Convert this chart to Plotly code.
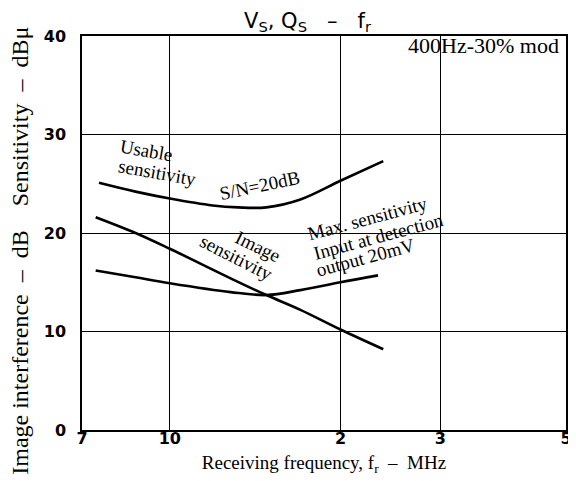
import numpy as np
import plotly.graph_objects as go

# Receiving frequency (MHz) and levels (dB / dBμ)
usable_f = [0.75, 0.87, 1.0, 1.19, 1.32, 1.48, 1.70, 2.0, 2.38]
usable_db = [25.1, 24.2, 23.5, 22.8, 22.6, 22.6, 23.4, 25.3, 27.3]

image_f = [0.74, 0.87, 1.0, 1.28, 1.48, 1.70, 2.0, 2.38]
image_db = [21.6, 20.0, 18.4, 15.4, 13.7, 12.2, 10.2, 8.2]

maxsens_f = [0.74, 0.87, 1.0, 1.28, 1.48, 1.70, 2.0, 2.33]
maxsens_db = [16.2, 15.5, 14.9, 14.0, 13.7, 14.2, 15.0, 15.7]

x_tickvals = [0.7, 1, 2, 3, 5]
x_ticktext = ["7", "10", "2", "3", "5"]
y_tickvals = [0, 10, 20, 30, 40]
y_ticktext = ["0", "10", "20", "30", "40"]

SERIF = "Liberation Serif"
SANS = "DejaVu Sans"
NB = "\u00a0"

fig = go.Figure()
for fx, fy in [(usable_f, usable_db), (image_f, image_db), (maxsens_f, maxsens_db)]:
    fig.add_trace(go.Scatter(x=fx, y=fy, mode="lines",
                             line=dict(color="black", width=2.6, shape="spline", smoothing=1.0),
                             showlegend=False, hoverinfo="skip"))

lx = lambda f: float(np.log10(f))

def ann(text, f, y, angle, size=19, **kw):
    fig.add_annotation(x=lx(f), y=y, xref="x", yref="y", text=text, showarrow=False,
                       textangle=angle, font=dict(family=SERIF, size=size, color="black"), **kw)

ann("Usable", 0.91, 28.4, 10)
ann("sensitivity", 0.95, 26.1, 10)
ann("S/N=20dB", 1.44, 24.8, -12)
ann("Image", 1.43, 18.6, 26)
ann("sensitivity", 1.31, 17.5, 27)
ann("Max. sensitivity", 2.23, 21.5, -15)
ann("Input at detection", 2.33, 19.6, -15)
ann("output 20mV", 2.21, 17.5, -15)

fig.add_annotation(x=1, y=1, xref="paper", yref="paper", xanchor="right", yanchor="top",
                   text="400Hz-30% mod", showarrow=False, xshift=-5, yshift=5,
                   font=dict(family=SERIF, size=22, color="black"))

# y-axis title (placed as a rotated text so it can sit slightly below centre, as printed)
ytitle = ("Image interference" + NB * 2 + "–" + NB * 2 + "dB" + NB * 4 + "Sensitivity"
          + NB * 2 + "–" + NB * 2 + "dBμ")
fig.add_annotation(x=-0.128, y=0.455, xref="paper", yref="paper", xanchor="center", yanchor="middle",
                   text=ytitle, textangle=-90, showarrow=False,
                   font=dict(family=SERIF, size=24, color="black"))

# white patches where the printed grid is interrupted behind the labels
# (page pixel positions of the plot area: left 82, top 36, 484 x 394)
PW, PH, L, T = 484.0, 394.0, 82.0, 36.0
def gap(x0, x1, y0, y1):
    fig.add_shape(type="rect", xref="paper", yref="paper", layer="between",
                  x0=(x0 - L) / PW, x1=(x1 - L) / PW, y0=(T + PH - y1) / PH, y1=(T + PH - y0) / PH,
                  line=dict(width=0), fillcolor="white")
gap(293, 457, 188, 253)
gap(187, 293, 229, 238)
gap(83, 100, 229, 238)
gap(165, 175, 134, 191)
gap(436, 448, 37, 60)

fig.update_layout(
    template="none",
    width=576, height=481,
    margin=dict(l=74, r=18, t=28, b=59, pad=0),
    paper_bgcolor="white", plot_bgcolor="white",
    title=dict(text="V<sub>S</sub>, Q<sub>S</sub>" + NB * 3 + "–" + NB * 3 + "f<sub>r</sub>", x=0.52, xanchor="center",
               y=0.99, yanchor="top", font=dict(family=SANS, size=21, color="black")),
    xaxis=dict(type="log", range=[np.log10(0.7), np.log10(5)], tickvals=x_tickvals, ticktext=x_ticktext,
               showgrid=True, gridcolor="black", gridwidth=1, zeroline=False, automargin=False,
               showline=True, linecolor="black", linewidth=1.5, mirror=True, ticks="",
               ticklabelstandoff=-7,
               tickfont=dict(family=SANS, size=16, color="black", weight="bold"),
               title=dict(text="Receiving frequency, f<sub>r</sub>" + NB * 2 + "–" + NB * 2 + "MHz", standoff=9,
                          font=dict(family=SERIF, size=19, color="black"))),
    yaxis=dict(range=[0, 40], tickvals=y_tickvals, ticktext=y_ticktext,
               showgrid=True, gridcolor="black", gridwidth=1, zeroline=False, automargin=False,
               showline=True, linecolor="black", linewidth=1.5, mirror=True, ticks="",
               ticklabelstandoff=11,
               tickfont=dict(family=SANS, size=16, color="black", weight="bold")),
)

fig.write_html("out.html")
